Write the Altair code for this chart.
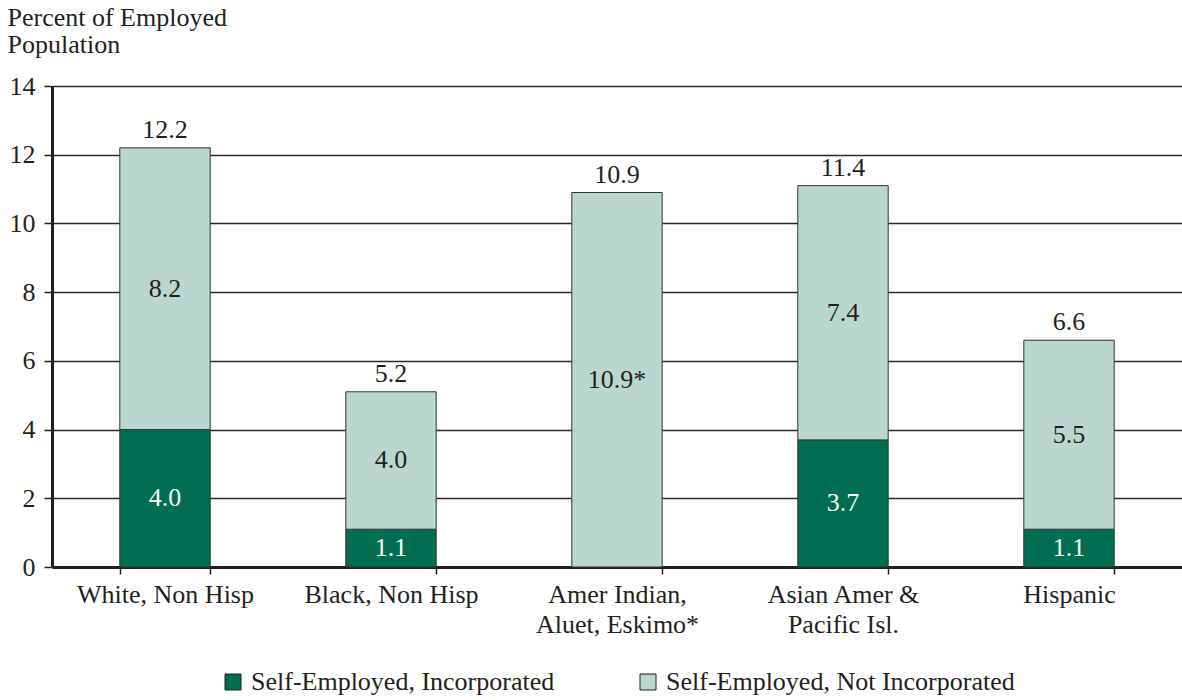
import altair as alt
import pandas as pd

# Share of employed population that is self-employed, by race / ethnicity
groups = [
    "White, Non Hisp",
    "Black, Non Hisp",
    "Amer Indian,|Aluet, Eskimo*",
    "Asian Amer &|Pacific Isl.",
    "Hispanic",
]
incorporated = [4.0, 1.1, None, 3.7, 1.1]
not_incorporated = [8.2, 4.0, 10.9, 7.4, 5.5]
not_inc_labels = ["8.2", "4.0", "10.9*", "7.4", "5.5"]
total_labels = ["12.2", "5.2", "10.9", "11.4", "6.6"]

series = ["Self-Employed, Incorporated", "Self-Employed, Not Incorporated"]
colors = ["#006e51", "#bad7cf"]
FONT = "Liberation Serif"
FS = 26
INK = "#231f20"

rows = []
tops = []
for g, inc, ninc, nlab in zip(groups, incorporated, not_incorporated, not_inc_labels):
    base = 0.0
    if inc:
        rows.append(dict(group=g, series=series[0], y0=0.0, y1=inc,
                         label=f"{inc:.1f}", txt="white"))
        base = inc
    rows.append(dict(group=g, series=series[1], y0=base, y1=base + ninc,
                     label=nlab, txt=INK))
    tops.append(base + ninc)
segs = pd.DataFrame(rows)
segs["mid"] = (segs["y0"] + segs["y1"]) / 2
totals = pd.DataFrame(dict(group=groups, top=tops, label=total_labels))

x = alt.X(
    "group:N",
    sort=groups,
    title=None,
    scale=alt.Scale(paddingInner=0.6, paddingOuter=0.3),
    axis=alt.Axis(
        labelExpr="split(datum.label, '|')",
        labelAngle=0,
        labelFont=FONT,
        labelFontSize=FS,
        labelColor=INK,
        labelBaseline="top",
        labelLineHeight=30,
        labelPadding=7,
        tickBand="extent",
        tickSize=7,
        tickWidth=1.5,
        tickColor=INK,
        domainColor=INK,
        domainWidth=3,
    ),
)
y_scale = alt.Scale(domain=[0, 14], nice=False)

bars = alt.Chart(segs).mark_bar(stroke="#333333", strokeWidth=1).encode(
    x=x,
    y=alt.Y(
        "y0:Q",
        scale=y_scale,
        title=["Percent of Employed", "Population"],
        axis=alt.Axis(
            values=[0, 2, 4, 6, 8, 10, 12, 14],
            labelFont=FONT,
            labelFontSize=FS,
            labelColor=INK,
            labelPadding=9,
            tickSize=8,
            tickWidth=1.5,
            tickColor=INK,
            domainColor=INK,
            domainWidth=3,
            grid=True,
            gridColor="#2a2a2a",
            gridWidth=1.3,
            titleFont=FONT,
            titleFontSize=FS,
            titleFontWeight="normal",
            titleColor=INK,
            titleAngle=0,
            titleAlign="left",
            titleBaseline="top",
            titleLineHeight=27,
            titleX=-45,
            titleY=-82,
        ),
    ),
    y2="y1:Q",
    color=alt.Color(
        "series:N",
        scale=alt.Scale(domain=series, range=colors),
        legend=alt.Legend(
            title=None,
            orient="none",
            legendX=168,
            legendY=583,
            direction="horizontal",
            columns=2,
            columnPadding=80,
            padding=0,
            symbolType="square",
            symbolSize=256,
            symbolStrokeColor="#222222",
            symbolStrokeWidth=1,
            symbolOpacity=1,
            labelFont=FONT,
            labelFontSize=FS,
            labelColor=INK,
            labelOffset=5,
            labelLimit=450,
        ),
    ),
)

seg_text = alt.Chart(segs).mark_text(font=FONT, fontSize=FS, baseline="middle").encode(
    x=alt.X("group:N", sort=groups),
    y=alt.Y("mid:Q", scale=y_scale),
    text="label:N",
    color=alt.Color("txt:N", scale=None),
)

total_text = alt.Chart(totals).mark_text(
    font=FONT, fontSize=FS, baseline="bottom", dy=-5, color=INK
).encode(
    x=alt.X("group:N", sort=groups),
    y=alt.Y("top:Q", scale=y_scale),
    text="label:N",
)

chart = (
    alt.layer(bars, seg_text, total_text)
    .properties(
        width=1130,
        height=481,
        autosize=alt.AutoSizeParams(type="none"),
        padding={"left": 52, "top": 86, "right": 0, "bottom": 133},
    )
    .configure_view(stroke=None)
    .configure(background="white")
)

chart.save("out.html", embed_options={"renderer": "svg", "actions": False})
